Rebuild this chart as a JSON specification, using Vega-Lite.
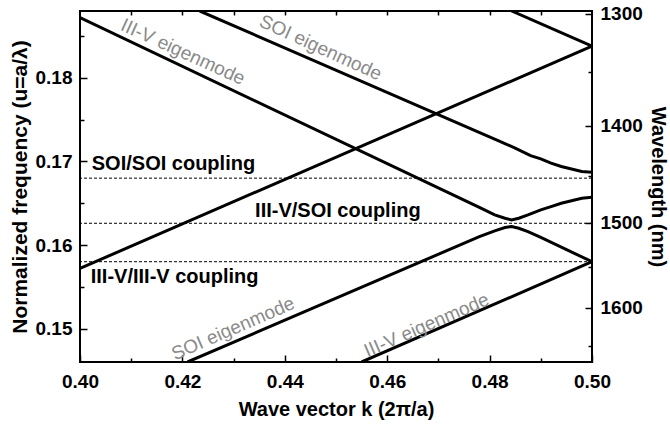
{
  "$schema": "https://vega.github.io/schema/vega-lite/v6.json",
  "width": 512,
  "height": 351,
  "autosize": {"type": "none"},
  "padding": {"left": 80, "top": 11, "right": 78, "bottom": 65},
  "background": "white",
  "config": {
    "view": {"stroke": "black", "strokeWidth": 2},
    "font": "Liberation Sans",
    "axis": {
      "domain": false,
      "grid": false,
      "tickColor": "black",
      "tickWidth": 1.5,
      "labelFont": "Liberation Sans",
      "labelFontSize": 19,
      "labelFontWeight": "bold",
      "labelColor": "black",
      "titleFont": "Liberation Sans",
      "titleFontSize": 20,
      "titleFontWeight": "bold",
      "titleColor": "black",
      "labelFlush": false,
      "labelOverlap": false
    }
  },
  "datasets": {
    "bands": [
      {"band": "A", "k": 0.400, "u": 0.1872},
      {"band": "A", "k": 0.478, "u": 0.1645},
      {"band": "A", "k": 0.481, "u": 0.1636},
      {"band": "A", "k": 0.483, "u": 0.1632},
      {"band": "A", "k": 0.4843, "u": 0.1630},
      {"band": "A", "k": 0.4857, "u": 0.1632},
      {"band": "A", "k": 0.4875, "u": 0.1636},
      {"band": "A", "k": 0.490, "u": 0.1642},
      {"band": "A", "k": 0.492, "u": 0.1646},
      {"band": "A", "k": 0.494, "u": 0.1650},
      {"band": "A", "k": 0.496, "u": 0.1653},
      {"band": "A", "k": 0.498, "u": 0.1656},
      {"band": "A", "k": 0.500, "u": 0.1657},
      {"band": "B", "k": 0.4234, "u": 0.1880},
      {"band": "B", "k": 0.482, "u": 0.1724},
      {"band": "B", "k": 0.485, "u": 0.1716},
      {"band": "B", "k": 0.488, "u": 0.1707},
      {"band": "B", "k": 0.490, "u": 0.1703},
      {"band": "B", "k": 0.492, "u": 0.1698},
      {"band": "B", "k": 0.494, "u": 0.1694},
      {"band": "B", "k": 0.496, "u": 0.1691},
      {"band": "B", "k": 0.498, "u": 0.1688},
      {"band": "B", "k": 0.500, "u": 0.1687},
      {"band": "C", "k": 0.400, "u": 0.1572},
      {"band": "C", "k": 0.500, "u": 0.1838},
      {"band": "D", "k": 0.4843, "u": 0.1880},
      {"band": "D", "k": 0.500, "u": 0.1838},
      {"band": "E", "k": 0.421, "u": 0.1460},
      {"band": "E", "k": 0.478, "u": 0.1610},
      {"band": "E", "k": 0.481, "u": 0.1617},
      {"band": "E", "k": 0.483, "u": 0.1621},
      {"band": "E", "k": 0.4843, "u": 0.1622},
      {"band": "E", "k": 0.4857, "u": 0.1620},
      {"band": "E", "k": 0.4875, "u": 0.1616},
      {"band": "E", "k": 0.490, "u": 0.1609},
      {"band": "E", "k": 0.500, "u": 0.1580},
      {"band": "F", "k": 0.455, "u": 0.1460},
      {"band": "F", "k": 0.500, "u": 0.1580}
    ],
    "coupling": [
      {"label": "SOI/SOI coupling", "u": 0.1680},
      {"label": "III-V/SOI coupling", "u": 0.1626},
      {"label": "III-V/III-V coupling", "u": 0.1580}
    ],
    "couplingLabels": [
      {"text": "SOI/SOI coupling", "k": 0.4023, "u": 0.1697},
      {"text": "III-V/SOI coupling", "k": 0.4342, "u": 0.1641},
      {"text": "III-V/III-V coupling", "k": 0.4021, "u": 0.1562}
    ],
    "eigenDown": [
      {"text": "III-V eigenmode", "k": 0.4201, "u": 0.1831},
      {"text": "SOI eigenmode", "k": 0.4470, "u": 0.1836}
    ],
    "eigenUp": [
      {"text": "SOI eigenmode", "k": 0.4299, "u": 0.1500},
      {"text": "III-V eigenmode", "k": 0.4677, "u": 0.1504}
    ],
    "wavelengthAxis": [
      {"wavelength_nm": 1300},
      {"wavelength_nm": 1600}
    ]
  },
  "layer": [
    {
      "data": {"name": "bands"},
      "mark": {"type": "line", "color": "black", "strokeWidth": 3, "clip": true},
      "encoding": {
        "x": {"field": "k", "type": "quantitative",
          "scale": {"domain": [0.4, 0.5], "nice": false, "zero": false},
          "axis": {"orient": "bottom", "values": [0.4, 0.42, 0.44, 0.46, 0.48, 0.5], "format": ".2f",
            "tickSize": -7, "labelPadding": 17, "title": "Wave vector k  (2π/a)", "titlePadding": 8}},
        "y": {"field": "u", "type": "quantitative",
          "scale": {"domain": [0.146, 0.188], "nice": false, "zero": false},
          "axis": {"orient": "left", "values": [0.15, 0.16, 0.17, 0.18], "format": ".2f",
            "tickSize": -7, "labelPadding": 15, "title": "Normalized frequency (u=a/λ)", "titleFontSize": 21, "titlePadding": 5}},
        "detail": {"field": "band", "type": "nominal"}
      }
    },
    {
      "data": {"name": "coupling"},
      "mark": {"type": "rule", "color": "black", "strokeWidth": 1, "strokeDash": [3, 2]},
      "encoding": {
        "y": {"field": "u", "type": "quantitative",
          "scale": {"domain": [0.146, 0.188], "nice": false, "zero": false},
          "axis": {"orient": "left", "values": [0.155, 0.165, 0.175, 0.185], "labels": false, "tickSize": -4, "title": null}}
      }
    },
    {
      "data": {"name": "couplingLabels"},
      "mark": {"type": "text", "font": "Liberation Sans", "fontSize": 20, "fontWeight": "bold", "color": "black", "align": "left", "baseline": "middle"},
      "encoding": {
        "x": {"field": "k", "type": "quantitative",
          "scale": {"domain": [0.4, 0.5], "nice": false, "zero": false},
          "axis": {"orient": "bottom", "values": [0.41, 0.43, 0.45, 0.47, 0.49], "labels": false, "tickSize": -4, "title": null}},
        "y": {"field": "u", "type": "quantitative",
          "scale": {"domain": [0.146, 0.188], "nice": false, "zero": false}, "axis": null},
        "text": {"field": "text", "type": "nominal"}
      }
    },
    {
      "data": {"name": "eigenDown"},
      "mark": {"type": "text", "font": "Liberation Sans", "fontSize": 19, "color": "#8a8a8a", "align": "center", "baseline": "middle", "angle": 24.5},
      "encoding": {
        "x": {"field": "k", "type": "quantitative",
          "scale": {"domain": [0.4, 0.5], "nice": false, "zero": false},
          "axis": {"orient": "top", "values": [0.41, 0.42, 0.43, 0.44, 0.45, 0.46, 0.47, 0.48, 0.49], "labels": false, "tickSize": -4, "title": null}},
        "y": {"field": "u", "type": "quantitative",
          "scale": {"domain": [0.146, 0.188], "nice": false, "zero": false}, "axis": null},
        "text": {"field": "text", "type": "nominal"}
      }
    },
    {
      "data": {"name": "eigenUp"},
      "mark": {"type": "text", "font": "Liberation Sans", "fontSize": 19, "color": "#8a8a8a", "align": "center", "baseline": "middle", "angle": 336.5},
      "encoding": {
        "x": {"field": "k", "type": "quantitative",
          "scale": {"domain": [0.4, 0.5], "nice": false, "zero": false}, "axis": null},
        "y": {"field": "u", "type": "quantitative",
          "scale": {"domain": [0.146, 0.188], "nice": false, "zero": false}, "axis": null},
        "text": {"field": "text", "type": "nominal"}
      }
    },
    {
      "data": {"name": "wavelengthAxis"},
      "mark": {"type": "rule", "opacity": 0},
      "encoding": {
        "y": {"field": "wavelength_nm", "type": "quantitative",
          "scale": {"type": "pow", "exponent": -1, "domain": [1671.23, 1297.87], "nice": false, "zero": false},
          "axis": {"orient": "right", "values": [1300, 1400, 1500, 1600], "format": "d",
            "tickSize": -7, "labelPadding": 15, "title": "Wavelength (nm)", "titlePadding": 5}}
      }
    },
    {
      "data": {"name": "wavelengthAxis"},
      "mark": {"type": "rule", "opacity": 0},
      "encoding": {
        "y": {"field": "wavelength_nm", "type": "quantitative",
          "scale": {"type": "pow", "exponent": -1, "domain": [1671.23, 1297.87], "nice": false, "zero": false},
          "axis": {"orient": "right", "values": [1350, 1450, 1550, 1650], "labels": false, "tickSize": -4, "title": null}}
      }
    }
  ],
  "resolve": {
    "scale": {"y": "independent"},
    "axis": {"x": "independent", "y": "independent"}
  }
}
